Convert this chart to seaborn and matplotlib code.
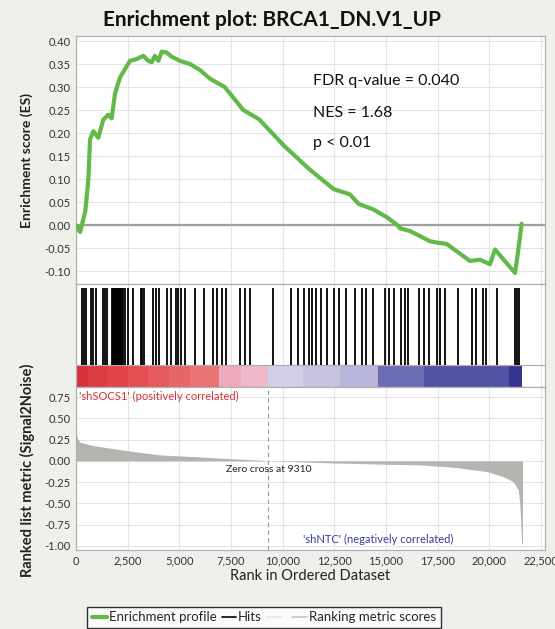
import numpy as np
import pandas as pd
import seaborn as sns
import matplotlib
matplotlib.use("Agg")
import matplotlib.pyplot as plt
from matplotlib.lines import Line2D

# ---------------- data ----------------
es_rank = [0, 200, 450, 600, 678, 840, 1080, 1320, 1565, 1725, 1890, 2130, 2370, 2610,
           2940, 3260, 3500, 3660, 3820, 3985, 4150, 4390, 4630, 5030, 5520, 6000, 6490,
           7200, 8100, 8860, 10080, 11280, 12480, 13250, 13680, 14350, 15050, 15560,
           15680, 16170, 17130, 17460, 17940, 18430, 19070, 19550, 20040, 20280, 21250,
           21330, 21450, 21570]
es_value = [0.0, -0.015, 0.03, 0.10, 0.186, 0.204, 0.19, 0.229, 0.24, 0.232, 0.286, 0.321,
            0.339, 0.357, 0.361, 0.368, 0.357, 0.354, 0.368, 0.357, 0.377, 0.375, 0.366,
            0.357, 0.35, 0.337, 0.318, 0.30, 0.25, 0.23, 0.172, 0.122, 0.078, 0.067, 0.046,
            0.035, 0.017, 0.0, -0.007, -0.013, -0.035, -0.038, -0.041, -0.057, -0.078,
            -0.075, -0.085, -0.053, -0.104, -0.080, -0.039, 0.003]

hit_ranks = [292, 380, 463, 721, 841, 978, 1321, 1420, 1493, 1750, 1800, 1836, 1880, 1922,
             1965, 2008, 2050, 2094, 2140, 2179, 2220, 2265, 2351, 2523, 2780, 3123, 3200,
             3295, 3724, 3895, 4033, 4410, 4582, 4839, 4925, 5097, 5268, 5783, 6212, 6641,
             6813, 7070, 7242, 7928, 8185, 8443, 9558, 10416, 10759, 11017, 11274, 11446,
             11617, 11875, 12132, 12475, 12733, 13076, 13505, 13848, 14020, 14363, 14964,
             15135, 15393, 15736, 15907, 16079, 16594, 16851, 17109, 17452, 17623, 17881,
             18481, 19168, 19339, 19683, 19854, 20369, 21270, 21340, 21420]

metric_rank = [0, 30, 100, 190, 830, 2450, 4070, 5680, 7290, 8900, 9310, 12500, 15000,
               16650, 18250, 19880, 20680, 21170, 21410, 21490, 21570, 21610]
metric_value = [0.38, 0.30, 0.25, 0.22, 0.18, 0.12, 0.07, 0.05, 0.028, 0.008, 0.0, -0.025,
                -0.04, -0.047, -0.075, -0.126, -0.186, -0.245, -0.344, -0.54, -0.975, -0.975]

band_start = [0, 600, 1500, 2500, 3500, 4500, 5500, 6900, 8000, 9300, 11000, 12800, 14600,
              16850, 20970]
band_end = [600, 1500, 2500, 3500, 4500, 5500, 6900, 8000, 9300, 11000, 12800, 14600, 16850,
            20970, 21600]
band_color = ["#d8313c", "#dc3a42", "#e04449", "#e24e51", "#e55a5c", "#e86567", "#ea7373",
              "#eeaabd", "#f0b8c9", "#d2cfe8", "#c6c4e1", "#b7b5da", "#6c6cb4", "#5252a4",
              "#343490"]

x_ticks = [0, 2500, 5000, 7500, 10000, 12500, 15000, 17500, 20000, 22500]
x_tick_labels = ["0", "2,500", "5,000", "7,500", "10,000", "12,500", "15,000", "17,500",
                 "20,000", "22,500"]
es_ticks = [0.40, 0.35, 0.30, 0.25, 0.20, 0.15, 0.10, 0.05, 0.00, -0.05, -0.10]
metric_ticks = [0.75, 0.50, 0.25, 0.00, -0.25, -0.50, -0.75, -1.00]
zero_cross = 9310

# ---------------- style ----------------
sns.set_theme(style="whitegrid")
plt.rcParams["font.family"] = ["Lato", "DejaVu Sans"]

W, H = 555, 629
fig = plt.figure(figsize=(W / 100, H / 100), dpi=100)
fig.patch.set_facecolor("#efefec")

def box(left, top, right, bottom):
    return [left / W, 1 - bottom / H, (right - left) / W, (bottom - top) / H]

XMAX = 22700
grid_kw = dict(color="#e4e4e4", linewidth=0.8)
tick_color = "#333333"

ax1 = fig.add_axes(box(76, 36, 545, 284))
ax2 = fig.add_axes(box(76, 284, 545, 387))
ax3 = fig.add_axes(box(76, 387, 545, 550))

for ax in (ax1, ax2, ax3):
    ax.set_facecolor("white")
    ax.set_xlim(0, XMAX)
    ax.set_xticks(x_ticks)
    ax.grid(True, **grid_kw)
    for s in ax.spines.values():
        s.set_color("#b0b0b0")
        s.set_linewidth(0.9)
    ax.tick_params(colors=tick_color, labelsize=8, length=2, width=0.6, pad=2)

# Enrichment profile
es_df = pd.DataFrame({"rank": es_rank, "es": es_value})
ax1.axhline(0, color="#a0a0a0", linewidth=1.6, zorder=1)
sns.lineplot(data=es_df, x="rank", y="es", ax=ax1, color="#62b848", linewidth=3.0,
             estimator=None, sort=False, zorder=3)
ax1.set_ylim(-0.128, 0.411)
ax1.set_yticks(es_ticks)
ax1.set_yticklabels([f"{v:.2f}" for v in es_ticks])
ax1.set_xticklabels([])
ax1.set_xlabel("")
ax1.set_ylabel("")
ax1.text(0.505, 0.82, "FDR q-value = 0.040", transform=ax1.transAxes, fontsize=11.5,
         color="#111111", va="center")
ax1.text(0.505, 0.69, "NES = 1.68", transform=ax1.transAxes, fontsize=11.5,
         color="#111111", va="center")
ax1.text(0.505, 0.57, "p < 0.01", transform=ax1.transAxes, fontsize=11.5,
         color="#111111", va="center")

# Hits + colour bar
ax2.set_ylim(0, 1)
ax2.set_yticks([])
ax2.set_xticklabels([])
ax2.tick_params(length=0)
ax2.vlines(hit_ranks, 0.215, 0.96, color="black", linewidth=1.3, zorder=3)
for s, e, c in zip(band_start, band_end, band_color):
    ax2.axvspan(s, e, ymin=0.0, ymax=0.205, color=c, linewidth=0, zorder=2)
ax2.axhline(0.21, color="#b0b0b0", linewidth=0.9, zorder=2)

# Ranked list metric
ax3.fill_between(metric_rank, metric_value, 0, color="#b4b5b0", linewidth=0, zorder=2)
ax3.axvline(zero_cross, color="#9a9a9a", linewidth=0.8, linestyle=(0, (4, 3)), zorder=3)
ax3.set_ylim(-1.05, 0.87)
ax3.set_yticks(metric_ticks)
ax3.set_yticklabels([f"{v:.2f}" for v in metric_ticks])
ax3.set_xticklabels(x_tick_labels)
ax3.set_xlabel("Rank in Ordered Dataset", fontsize=10.5, color="#222222", labelpad=2)
ax3.text(150, 0.76, "'shSOCS1' (positively correlated)", color="#d8323c", fontsize=8,
         va="center", ha="left")
ax3.text(zero_cross, -0.10, "Zero cross at 9310", color="#222222", fontsize=7.5,
         va="center", ha="center")
ax3.text(11000, -0.93, "'shNTC' (negatively correlated)", color="#3a3a9a", fontsize=8,
         va="center", ha="left")

# Titles and axis labels
fig.text(0.49, 1 - 20 / H, "Enrichment plot: BRCA1_DN.V1_UP", ha="center", va="center",
         fontsize=15, fontweight="bold", color="#111111")
fig.text(27 / W, 1 - 160 / H, "Enrichment score (ES)", rotation=90, ha="center",
         va="center", fontsize=10, fontweight="bold", color="#222222")
fig.text(27 / W, 1 - 470 / H, "Ranked list metric (Signal2Noise)", rotation=90,
         ha="center", va="center", fontsize=10.5, fontweight="bold", color="#222222")

# Legend
handles = [Line2D([], [], color="#62b848", linewidth=3),
           Line2D([], [], color="black", linewidth=1.2),
           Line2D([], [], color="#e6e6e6", linewidth=1.2),
           Line2D([], [], color="#c4c4c4", linewidth=1.2)]
labels = ["Enrichment profile", "Hits", " ", "Ranking metric scores"]
leg = fig.legend(handles, labels, loc="upper center", bbox_to_anchor=(264 / W, 1 - 600 / H),
                 ncol=4, frameon=True, fontsize=9.5, handlelength=1.1, handletextpad=0.15,
                 columnspacing=0.4, borderpad=0.35, fancybox=False)
leg.get_frame().set_edgecolor("black")
leg.get_frame().set_linewidth(1.0)
leg.get_frame().set_facecolor("white")

fig.savefig("out.png", dpi=100, facecolor=fig.get_facecolor())
